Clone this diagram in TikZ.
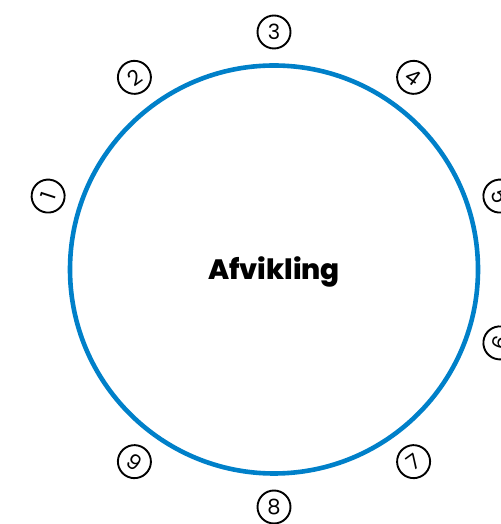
\documentclass[tikz,border=0pt]{standalone}
\usepackage{fontspec}
\usetikzlibrary{calc}
\setmainfont{Poppins}
\newfontfamily\titlefont{Poppins}[UprightFont=* ExtraBold]
\definecolor{ringblue}{RGB}{0,128,201}
\begin{document}
\begin{tikzpicture}[x=1pt,y=1pt,
  ring/.style={draw=ringblue,line width=4.6pt},
  numcirc/.style={draw=black,line width=1.9pt,circle,minimum size=33pt,inner sep=0pt,
    font=\fontsize{21}{21}\selectfont}]
\useasboundingbox (0,0) rectangle (500,524);
\coordinate (c) at (274,254.5);
\node[ring,circle,minimum size=408pt,inner sep=0pt] (main) at (c) {};
\node[font=\titlefont\fontsize{28}{28}\selectfont] (title) at ($(c)+(0,-2)$) {Afvikling};
\node[numcirc,rotate=72]  (n1) at ($(c)+(162:237.5)$) {1};
\node[numcirc,rotate=36]  (n2) at ($(c)+(126:237.5)$) {2};
\node[numcirc,rotate=0]   (n3) at ($(c)+(90:237.5)$) {3};
\node[numcirc,rotate=-36] (n4) at ($(c)+(54:237.5)$) {4};
\node[numcirc,rotate=-72] (n5) at ($(c)+(18:237.5)$) {5};
\node[numcirc,rotate=72]  (n6) at ($(c)+(-18:237.5)$) {6};
\node[numcirc,rotate=36]  (n7) at ($(c)+(-54:237.5)$) {7};
\node[numcirc,rotate=0]   (n8) at ($(c)+(-90:237.5)$) {8};
\node[numcirc,rotate=-36] (n9) at ($(c)+(-126:237.5)$) {9};
\end{tikzpicture}
\end{document}
